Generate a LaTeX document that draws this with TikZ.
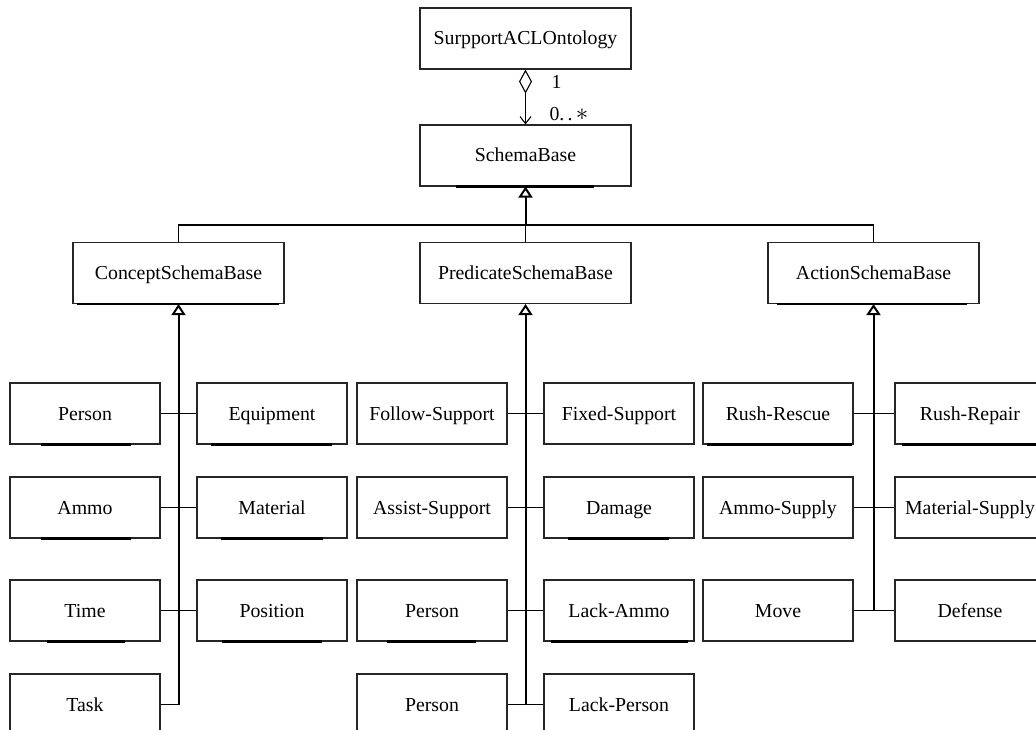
\documentclass[tikz,border=0pt]{standalone}
\usepackage{fontspec}
\setmainfont{Liberation Serif}
\usetikzlibrary{arrows.meta}

\newcommand\boxbar[3]{\draw[barline] ([xshift=#2pt]#1.south west) -- ([xshift=#3pt]#1.south west);}

\begin{document}
\begin{tikzpicture}[x=1pt,y=-1pt,
  cls/.style={draw=black!85,line width=1.1pt,fill=white,minimum width=150pt,minimum height=61pt,inner sep=0pt,
    text height=17pt,text depth=4pt,font=\fontsize{19.8}{22}\selectfont},
  bigcls/.style={cls,minimum width=211pt},
  barline/.style={line width=2.2pt,line cap=butt},
  link/.style={line width=1.1pt},
  trunk/.style={line width=2pt},
  inherit/.style={trunk,-{Triangle[open,width=14pt,length=11pt]}}]

\clip (0,0) rectangle (1036,730);

% top levels
\node[bigcls] (onto) at (525.5,38.5) {SurpportACLOntology};
\node[bigcls] (schema) at (525.5,155.5) {SchemaBase};
\node[bigcls] (concept) at (178.5,273) {ConceptSchemaBase};
\node[bigcls] (predicate) at (525.5,273) {PredicateSchemaBase};
\node[bigcls] (action) at (873.5,273) {ActionSchemaBase};

% concept group
\node[cls] (cPerson) at (85,413.5) {Person};
\node[cls] (cEquip) at (272,413.5) {Equipment};
\node[cls] (cAmmo) at (85,507.5) {Ammo};
\node[cls] (cMaterial) at (272,507.5) {Material};
\node[cls] (cTime) at (85,610.5) {Time};
\node[cls] (cPosition) at (272,610.5) {Position};
\node[cls] (cTask) at (85,704.5) {Task};

% predicate group
\node[cls] (pFollow) at (432,413.5) {Follow-Support};
\node[cls] (pFixed) at (619,413.5) {Fixed-Support};
\node[cls] (pAssist) at (432,507.5) {Assist-Support};
\node[cls] (pDamage) at (619,507.5) {Damage};
\node[cls] (pPerson) at (432,610.5) {Person};
\node[cls] (pLackAmmo) at (619,610.5) {Lack-Ammo};
\node[cls] (pPersonB) at (432,704.5) {Person};
\node[cls] (pLackPerson) at (619,704.5) {Lack-Person};

% action group
\node[cls] (aRescue) at (778,413.5) {Rush-Rescue};
\node[cls] (aRepair) at (970,413.5) {Rush-Repair};
\node[cls] (aAmmo) at (778,507.5) {Ammo-Supply};
\node[cls] (aMaterial) at (970,507.5) {Material-Supply};
\node[cls] (aMove) at (778,610.5) {Move};
\node[cls] (aDefense) at (970,610.5) {Defense};

% thick bottom marks
\boxbar{schema}{37}{175}
\boxbar{concept}{5}{207}
\boxbar{action}{10}{200}
\boxbar{cPerson}{32}{122}
\boxbar{cEquip}{15}{136}
\boxbar{cAmmo}{32}{122}
\boxbar{cMaterial}{25}{127}
\boxbar{cTime}{38}{116}
\boxbar{cPosition}{26}{126}
\boxbar{pDamage}{25}{126}
\boxbar{pPerson}{31}{120}
\boxbar{pLackAmmo}{8}{145}
\boxbar{aRescue}{5}{150}
\boxbar{aRepair}{8}{150}

% aggregation
\draw[link,{Diamond[open,width=13pt,length=24pt]}-{Straight Barb[width=11pt,length=7pt]}] (onto) -- (schema);
\node[font=\fontsize{19.8}{22}\selectfont,anchor=west] (one) at (548,82) {1};
\node[font=\fontsize{19.8}{22}\selectfont,anchor=west] (many) at (546,114) {0.\,.\,{\fontsize{26}{26}\selectfont$\ast$}};

% generalisation tree
\coordinate (hub) at (525.5,225);
\draw[link,line width=1.5pt] (concept.north) |- (hub) -| (action.north);
\draw[link,line width=1.5pt] (predicate.north) -- (hub);
\draw[inherit] (hub) -- (schema.south);

% trunks
\coordinate (cEnd) at (178.5,704.5);
\coordinate (pEnd) at (525.5,704.5);
\coordinate (aEnd) at (873.5,610.5);
\draw[inherit] (cEnd) -- (concept.south);
\draw[inherit] (pEnd) -- (predicate.south);
\draw[inherit] (aEnd) -- (action.south);

% branches
\draw[link] (cPerson) -- (cEquip);
\draw[link] (cAmmo) -- (cMaterial);
\draw[link] (cTime) -- (cPosition);
\draw[link] (cTask) -- (cEnd);
\draw[link] (pFollow) -- (pFixed);
\draw[link] (pAssist) -- (pDamage);
\draw[link] (pPerson) -- (pLackAmmo);
\draw[link] (pPersonB) -- (pLackPerson);
\draw[link] (aRescue) -- (aRepair);
\draw[link] (aAmmo) -- (aMaterial);
\draw[link] (aMove) -- (aDefense);
\end{tikzpicture}
\end{document}
